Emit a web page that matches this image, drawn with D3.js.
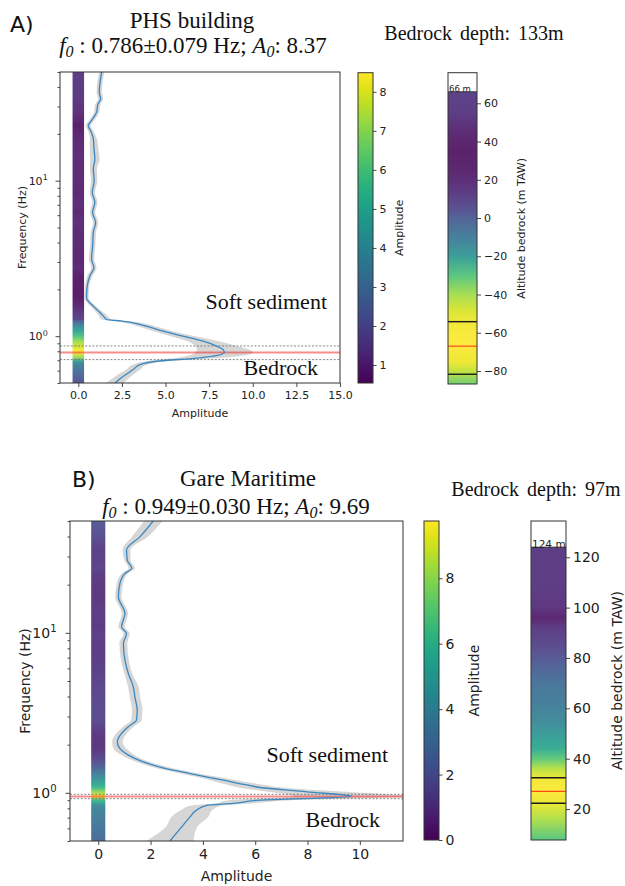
<!DOCTYPE html>
<html>
<head>
<meta charset="utf-8">
<script src="https://cdn.jsdelivr.net/npm/d3@7"></script>
<style>
  body { margin: 0; background: #fff; }
  svg { display: block; }
</style>
</head>
<body>
<svg id="fig" width="625" height="886"></svg>
<script>
// ---------------- Panel A: PHS building ----------------
const freqA = [50, 37.2, 33.5, 31, 27.6, 24.4, 22.6, 21, 18.6, 16, 13.8, 11.9, 10, 8.4, 7.26, 6.25,
  5.39, 4.65, 3.81, 3.13, 2.76, 2.44, 2.10, 1.77, 1.56, 1.42, 1.35, 1.28, 1.25, 1.16, 1.077, 1.0,
  0.928, 0.862, 0.82, 0.786, 0.726, 0.69, 0.656, 0.61, 0.552, 0.5];
const ampA = [1.34, 1.20, 1.28, 1.12, 1.05, 0.76, 0.57, 0.70, 0.86, 0.90, 0.95, 0.86, 0.91, 0.80, 0.95, 0.82,
  0.99, 0.86, 0.82, 0.76, 0.89, 0.66, 0.51, 0.47, 0.86, 1.24, 1.43, 1.62, 2.5, 3.9, 4.87, 6.0,
  7.16, 7.93, 8.3, 8.37, 6.97, 4.49, 3.53, 3.15, 2.58, 2.1];
const stdA = [0.15, 0.15, 0.15, 0.15, 0.15, 0.15, 0.15, 0.15, 0.2, 0.25, 0.27, 0.2, 0.18, 0.15, 0.15, 0.15,
  0.15, 0.15, 0.15, 0.15, 0.15, 0.15, 0.12, 0.12, 0.15, 0.2, 0.25, 0.3, 0.4, 0.5, 0.55, 0.7,
  0.9, 1.2, 1.5, 1.65, 1.3, 0.6, 0.4, 0.4, 0.45, 0.5];
const f0A = 0.786, f0StdA = 0.079, peakAmpA = 8.37;
const ampTicksA = [0, 2.5, 5, 7.5, 10, 12.5, 15];
const cbarTicksA = [1, 2, 3, 4, 5, 6, 7, 8];
const altTicksA = [60, 40, 20, 0, -20, -40, -60, -80];
const surfaceA = 66, depthA = 133;
const depthBoundsA = [-54.2, -81.7];
// bedrock column: altitude (m TAW) and viridis tone of the shading
const columnAltA = [66, 55, 45, 35, 25, 15, 5, 0, -10, -20, -30, -40, -48, -55, -65, -75, -80, -87];
const columnToneA = [0.12, 0.10, 0.04, 0.01, 0.03, 0.08, 0.17, 0.24, 0.36, 0.50, 0.70, 0.85, 0.93, 0.98, 1.0, 0.97, 0.9, 0.75];

// ---------------- Panel B: Gare Maritime ----------------
const freqB = [50, 39.8, 32.9, 28.5, 25.3, 23.5, 20.4, 16.8, 13.2, 10.9, 9.9, 8.6, 6.75, 5.57, 4.6, 3.98,
  3.29, 2.85, 2.59, 2.35, 2.08, 1.89, 1.72, 1.56, 1.45, 1.32, 1.2, 1.12, 1.08, 1.015, 0.949,
  0.9, 0.859, 0.834, 0.78, 0.708, 0.613, 0.5];
const ampB = [2.10, 1.59, 1.08, 1.11, 1.28, 1.02, 0.83, 0.77, 1.02, 0.89, 1.08, 0.96, 1.02, 1.15, 1.34, 1.40,
  1.49, 1.46, 1.15, 0.89, 0.73, 0.83, 1.15, 1.72, 2.36, 3.51, 4.78, 5.67, 6.18, 7.97, 9.69,
  6.18, 5.16, 4.15, 3.76, 3.51, 3.19, 2.74];
const stdB = [0.35, 0.3, 0.15, 0.12, 0.12, 0.12, 0.12, 0.12, 0.12, 0.12, 0.12, 0.15, 0.15, 0.15, 0.2, 0.2,
  0.2, 0.2, 0.2, 0.2, 0.2, 0.25, 0.25, 0.25, 0.3, 0.35, 0.5, 0.7, 0.8, 1.5, 2.2,
  1.2, 0.7, 0.6, 0.6, 0.7, 0.6, 0.9];
const f0B = 0.949, f0StdB = 0.030, peakAmpB = 9.69;
const ampTicksB = [0, 2, 4, 6, 8, 10];
const cbarTicksB = [0, 2, 4, 6, 8];
const altTicksB = [120, 100, 80, 60, 40, 20];
const surfaceB = 124, depthB = 97;
const depthBoundsB = [32.4, 22.3];
const columnAltB = [124, 110, 100, 96, 92, 85, 80, 76, 70, 62, 55, 48, 44, 40, 36, 32, 27, 22, 15, 8];
const columnToneB = [0.10, 0.10, 0.08, 0.03, 0.10, 0.15, 0.20, 0.25, 0.32, 0.36, 0.42, 0.52, 0.58, 0.72, 0.88, 0.98, 1.0, 0.96, 0.85, 0.70];

const freqDomain = [0.5, 50];
const freqMajor = [1, 10];
const freqMinor = [0.5, 0.6, 0.7, 0.8, 0.9, 2, 3, 4, 5, 6, 7, 8, 9, 20, 30, 40, 50];

const panels = [
  {
    key: "A", label: "A)", title: "PHS building",
    freq: freqA, amp: ampA, std: stdA, f0: f0A, f0Std: f0StdA, peak: peakAmpA,
    ampDomain: [-1.05, 15], ampTicks: ampTicksA, ampFmt: d3.format(".1f"),
    stripHalf: 0.33,
    box: { l: 60, r: 340, t: 72, b: 383 },
    cbar: { l: 358, r: 373, t: 72.7, b: 383, domain: [0.54, 8.49], ticks: cbarTicksA, labelX: 399 },
    col: { l: 448, r: 477, t: 72.7, b: 384, domain: [-86.8, 76], ticks: altTicksA,
           surface: surfaceA, depth: depthA, bounds: depthBoundsA, alt: columnAltA, tone: columnToneA,
           labelX: 521, topFont: 8.5 },
    fs: 11, labelFs: 11,
    t: { labelX: 10, labelY: 32, titleX: 192, titleY: 28, subX: 193, subY: 53, depthX: 474, depthY: 40 },
    xLabelY: 417, yLabelX: 22,
    soft: { x: 327, y: 309 }, rock: { x: 318, y: 375 }
  },
  {
    key: "B", label: "B)", title: "Gare Maritime",
    freq: freqB, amp: ampB, std: stdB, f0: f0B, f0Std: f0StdB, peak: peakAmpB,
    ampDomain: [-1.08, 11.65], ampTicks: ampTicksB, ampFmt: d3.format("d"),
    stripHalf: 0.27,
    box: { l: 70, r: 403, t: 521, b: 841 },
    cbar: { l: 424, r: 439, t: 521, b: 840, domain: [0, 9.75], ticks: cbarTicksB, labelX: 474 },
    col: { l: 531, r: 566, t: 521, b: 840, domain: [7.7, 134.4], ticks: altTicksB,
           surface: surfaceB, depth: depthB, bounds: depthBoundsB, alt: columnAltB, tone: columnToneB,
           labelX: 617, topFont: 10.5 },
    fs: 14, labelFs: 14,
    t: { labelX: 72, labelY: 487, titleX: 248, titleY: 486, subX: 236, subY: 514, depthX: 536, depthY: 496 },
    xLabelY: 881, yLabelX: 25,
    soft: { x: 388, y: 762 }, rock: { x: 380, y: 827 }
  }
];

const svg = d3.select("#fig");
const defs = svg.append("defs");
const SANS = "DejaVu Sans, sans-serif";
const SERIF = "Liberation Serif, Times New Roman, serif";
const INK = "#222";

function rotatedLabel(g, x, y, text, fs) {
  g.append("text")
    .attr("transform", `translate(${x},${y}) rotate(-90)`)
    .attr("text-anchor", "middle").attr("dominant-baseline", "central")
    .attr("font-family", SANS).attr("font-size", fs).attr("fill", INK)
    .text(text);
}

function styleAxis(ax, fs) {
  ax.selectAll(".domain").remove();
  ax.selectAll(".tick line").attr("stroke", "#333").attr("stroke-width", 0.9);
  ax.selectAll(".tick text").attr("font-family", SANS).attr("font-size", fs).attr("fill", INK);
}

panels.forEach(p => {
  const g = svg.append("g").attr("class", "panel-" + p.key);
  const x = d3.scaleLinear().domain(p.ampDomain).range([p.box.l, p.box.r]);
  const y = d3.scaleLog().domain(freqDomain).range([p.box.b, p.box.t]);
  const norm = d3.scaleLinear().domain(p.cbar.domain).range([0, 1]).clamp(true);
  const colorOf = a => d3.interpolateViridis(norm(a));

  // clip to the axes box
  defs.append("clipPath").attr("id", "clip" + p.key)
    .append("rect").attr("x", p.box.l).attr("y", p.box.t)
    .attr("width", p.box.r - p.box.l).attr("height", p.box.b - p.box.t);
  const plot = g.append("g").attr("clip-path", `url(#clip${p.key})`);

  // amplitude strip at x = 0, coloured by the mean amplitude
  const yFirst = y(p.freq[0]), yLast = y(p.freq[p.freq.length - 1]);
  const sg = defs.append("linearGradient").attr("id", "strip" + p.key)
    .attr("gradientUnits", "userSpaceOnUse")
    .attr("x1", 0).attr("x2", 0).attr("y1", yFirst).attr("y2", yLast);
  p.freq.forEach((f, i) => {
    sg.append("stop").attr("offset", (y(f) - yFirst) / (yLast - yFirst))
      .attr("stop-color", colorOf(p.amp[i]));
  });
  plot.append("rect")
    .attr("x", x(-p.stripHalf)).attr("width", x(p.stripHalf) - x(-p.stripHalf))
    .attr("y", yFirst).attr("height", yLast - yFirst)
    .attr("fill", `url(#strip${p.key})`).attr("opacity", 0.88);

  const rows = p.freq.map((f, i) => ({ f, a: p.amp[i], s: p.std[i] }));

  // standard deviation band
  plot.append("path").datum(rows)
    .attr("d", d3.area().curve(d3.curveMonotoneY)
      .y(d => y(d.f)).x0(d => x(d.a - d.s)).x1(d => x(d.a + d.s)))
    .attr("fill", "#cfcfcf").attr("opacity", 0.85);

  // f0 and its uncertainty
  [p.f0 - p.f0Std, p.f0 + p.f0Std].forEach(v => {
    plot.append("line").attr("x1", p.box.l).attr("x2", p.box.r)
      .attr("y1", y(v)).attr("y2", y(v))
      .attr("stroke", "#666").attr("stroke-width", 0.8).attr("stroke-dasharray", "2,1.6");
  });
  plot.append("line").attr("x1", p.box.l).attr("x2", p.box.r)
    .attr("y1", y(p.f0)).attr("y2", y(p.f0))
    .attr("stroke", "#ee3030").attr("stroke-opacity", 0.55).attr("stroke-width", 2);

  // mean H/V curve
  plot.append("path").datum(rows)
    .attr("d", d3.line().curve(d3.curveMonotoneY).y(d => y(d.f)).x(d => x(d.a)))
    .attr("fill", "none").attr("stroke", "#3a87c0").attr("stroke-width", 1.3);

  // annotations
  g.append("text").attr("x", p.soft.x).attr("y", p.soft.y).attr("text-anchor", "end")
    .attr("font-family", SERIF).attr("font-size", 22).attr("fill", "#111").text("Soft sediment");
  g.append("text").attr("x", p.rock.x).attr("y", p.rock.y).attr("text-anchor", "end")
    .attr("font-family", SERIF).attr("font-size", 22).attr("fill", "#111").text("Bedrock");

  // axes frame
  g.append("rect").attr("x", p.box.l).attr("y", p.box.t)
    .attr("width", p.box.r - p.box.l).attr("height", p.box.b - p.box.t)
    .attr("fill", "none").attr("stroke", "#333").attr("stroke-width", 1);

  // x axis
  const xa = g.append("g").attr("transform", `translate(0,${p.box.b})`)
    .call(d3.axisBottom(x).tickValues(p.ampTicks).tickFormat(p.ampFmt).tickSizeInner(4).tickSizeOuter(0).tickPadding(4));
  styleAxis(xa, p.fs);

  // y axis (log) with superscript decade labels
  const ya = g.append("g").attr("transform", `translate(${p.box.l},0)`)
    .call(d3.axisLeft(y).tickValues(freqMajor).tickFormat(() => "10").tickSizeInner(4.5).tickSizeOuter(0).tickPadding(4));
  styleAxis(ya, p.fs);
  ya.selectAll(".tick text").each(function (d) {
    const t = d3.select(this);
    t.attr("dx", "-0.35em");
    t.append("tspan").attr("dy", "-0.55em").attr("font-size", p.fs * 0.72)
      .text(Math.round(Math.log10(d)));
  });
  const ym = g.append("g").attr("transform", `translate(${p.box.l},0)`)
    .call(d3.axisLeft(y).tickValues(freqMinor).tickFormat(() => "").tickSizeInner(2.5).tickSizeOuter(0));
  styleAxis(ym, p.fs);

  g.append("text").attr("x", (p.box.l + p.box.r) / 2).attr("y", p.xLabelY)
    .attr("text-anchor", "middle").attr("font-family", SANS).attr("font-size", p.labelFs)
    .attr("fill", INK).text("Amplitude");
  rotatedLabel(g, p.yLabelX, (p.box.t + p.box.b) / 2, "Frequency (Hz)", p.labelFs);

  // colour bar
  const cb = p.cbar;
  const cy = d3.scaleLinear().domain(cb.domain).range([cb.b, cb.t]);
  const cg = defs.append("linearGradient").attr("id", "cbar" + p.key)
    .attr("x1", 0).attr("x2", 0).attr("y1", 1).attr("y2", 0);
  d3.range(0, 1.0001, 0.05).forEach(t => cg.append("stop").attr("offset", t).attr("stop-color", d3.interpolateViridis(t)));
  g.append("rect").attr("x", cb.l).attr("y", cb.t).attr("width", cb.r - cb.l).attr("height", cb.b - cb.t)
    .attr("fill", `url(#cbar${p.key})`).attr("stroke", "#333").attr("stroke-width", 1);
  const ca = g.append("g").attr("transform", `translate(${cb.r},0)`)
    .call(d3.axisRight(cy).tickValues(cb.ticks).tickFormat(d3.format("d")).tickSizeInner(3.5).tickSizeOuter(0).tickPadding(3));
  styleAxis(ca, p.fs);
  rotatedLabel(g, cb.labelX, (cb.t + cb.b) / 2, "Amplitude", p.labelFs);

  // bedrock altitude column
  const c = p.col;
  const ay = d3.scaleLinear().domain(c.domain).range([c.b, c.t]);
  const colG = defs.append("linearGradient").attr("id", "col" + p.key)
    .attr("gradientUnits", "userSpaceOnUse")
    .attr("x1", 0).attr("x2", 0).attr("y1", ay(c.surface)).attr("y2", c.b);
  c.alt.forEach((a, i) => {
    colG.append("stop").attr("offset", (ay(a) - ay(c.surface)) / (c.b - ay(c.surface)))
      .attr("stop-color", d3.interpolateViridis(c.tone[i]));
  });
  g.append("rect").attr("x", c.l).attr("y", ay(c.surface)).attr("width", c.r - c.l)
    .attr("height", c.b - ay(c.surface)).attr("fill", `url(#col${p.key})`).attr("opacity", 0.88);
  c.bounds.forEach(v => {
    g.append("line").attr("x1", c.l).attr("x2", c.r).attr("y1", ay(v)).attr("y2", ay(v))
      .attr("stroke", "#1a1a1a").attr("stroke-width", 1.4);
  });
  const rockAlt = c.surface - c.depth;
  g.append("line").attr("x1", c.l).attr("x2", c.r).attr("y1", ay(rockAlt)).attr("y2", ay(rockAlt))
    .attr("stroke", "#ff4a1a").attr("stroke-width", 1.2);
  g.append("line").attr("x1", c.l).attr("x2", c.r).attr("y1", ay(c.surface)).attr("y2", ay(c.surface))
    .attr("stroke", "#333").attr("stroke-width", 1);
  g.append("rect").attr("x", c.l).attr("y", c.t).attr("width", c.r - c.l).attr("height", c.b - c.t)
    .attr("fill", "none").attr("stroke", "#333").attr("stroke-width", 1);
  g.append("text").attr("x", c.l + 1).attr("y", ay(c.surface) + 0.5)
    .attr("font-family", SANS).attr("font-size", c.topFont).attr("fill", INK)
    .text(`${c.surface} m`);
  const aa = g.append("g").attr("transform", `translate(${c.r},0)`)
    .call(d3.axisRight(ay).tickValues(c.ticks).tickFormat(d => d3.format("d")(d).replace("-", "\u2212"))
      .tickSizeInner(4).tickSizeOuter(0).tickPadding(3));
  styleAxis(aa, p.fs);
  rotatedLabel(g, c.labelX, (c.t + c.b) / 2, "Altitude bedrock (m TAW)", p.labelFs);

  // titles
  g.append("text").attr("x", p.t.labelX).attr("y", p.t.labelY)
    .attr("font-family", SANS).attr("font-size", 22).attr("fill", "#111").text(p.label);
  g.append("text").attr("x", p.t.titleX).attr("y", p.t.titleY).attr("text-anchor", "middle")
    .attr("font-family", SERIF).attr("font-size", 23).attr("fill", "#111").text(p.title);
  const sub = g.append("text").attr("x", p.t.subX).attr("y", p.t.subY).attr("text-anchor", "middle")
    .attr("font-family", SERIF).attr("font-size", 23).attr("fill", "#111");
  sub.append("tspan").attr("font-style", "italic").text("f");
  sub.append("tspan").attr("font-style", "italic").attr("font-size", 16).attr("dy", 4).text("0");
  sub.append("tspan").attr("dy", -4).text(` : ${p.f0.toFixed(3)}\u00b1${p.f0Std.toFixed(3)} Hz; `);
  sub.append("tspan").attr("font-style", "italic").text("A");
  sub.append("tspan").attr("font-style", "italic").attr("font-size", 16).attr("dy", 4).text("0");
  sub.append("tspan").attr("dy", -4).text(`: ${p.peak.toFixed(2)}`);
  g.append("text").attr("x", p.t.depthX).attr("y", p.t.depthY).attr("text-anchor", "middle")
    .attr("font-family", SERIF).attr("font-size", 20).attr("fill", "#111")
    .attr("word-spacing", 3)
    .text(`Bedrock depth: ${c.depth}m`);
});
</script>
</body>
</html>
